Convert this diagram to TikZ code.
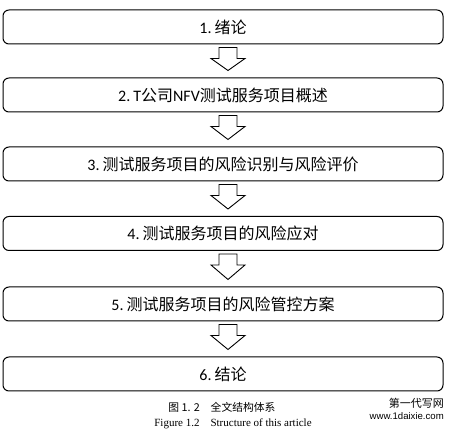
\documentclass[tikz,border=0pt]{standalone}
\usepackage{fontspec}
\setmainfont{Carlito}
\newfontfamily\cjk{Noto Sans CJK SC}
\newfontfamily\lat{Carlito}
\newfontfamily\tms{Liberation Serif}
\newfontfamily\wm{Liberation Sans}
\usetikzlibrary{calc}
\newcommand{\gp}{\hspace{3pt}}
\begin{document}
\begin{tikzpicture}[x=1pt,y=-1pt,
  stagebox/.style={draw=black,line width=1pt,rounded corners=6pt,minimum width=440pt,minimum height=34pt,inner sep=0pt,font=\fontsize{16}{18}\selectfont},
  blockarrow/.style={draw=black,line width=0.9pt,fill=white,line join=miter}]
\useasboundingbox (0,0) rectangle (456,433);
\node[stagebox] (b1) at (223,27) {\lat 1.\gp\cjk 绪论};
\node[stagebox] (b2) at (223,95) {\lat 2.\gp T\cjk 公司\lat NFV\cjk 测试服务项目概述};
\node[stagebox] (b3) at (223,164) {\lat 3.\gp\cjk 测试服务项目的风险识别与风险评价};
\node[stagebox] (b4) at (223,233.5) {\lat 4.\gp\cjk 测试服务项目的风险应对};
\node[stagebox] (b5) at (223,304) {\lat 5.\gp\cjk 测试服务项目的风险管控方案};
\node[stagebox] (b6) at (223,374) {\lat 6.\gp\cjk 结论};
\foreach \a/\b in {b1/b2,b2/b3,b3/b4,b4/b5,b5/b6}{
  \coordinate (s) at ($(\a.south)+(5,0)$);
  \coordinate (t) at ($(\b.north)+(5,0)$);
  \draw[blockarrow] ($(s)+(-9,3)$) -- ($(s)+(9,3)$) -- ($(s)+(9,14)$) -- ($(s)+(17,14)$)
    -- ($(t)+(0,-7)$) -- ($(s)+(-17,14)$) -- ($(s)+(-9,14)$) -- cycle;
}
\node[font=\cjk\fontsize{10.8}{12}\selectfont] (cap1) at (222,407) {图 1. 2\quad 全文结构体系};
\node[font=\tms\fontsize{11}{12}\selectfont] (cap2) at (233,424) {Figure 1.2\quad Structure of this article};
\node[font=\cjk\fontsize{11}{12}\selectfont,anchor=east,inner sep=0pt] (wm1) at (444,403) {第一代写网};
\node[font=\wm\fontsize{9.6}{11}\selectfont,anchor=east,inner sep=0pt] (wm2) at (444,416) {www.1daixie.com};
\end{tikzpicture}
\end{document}
